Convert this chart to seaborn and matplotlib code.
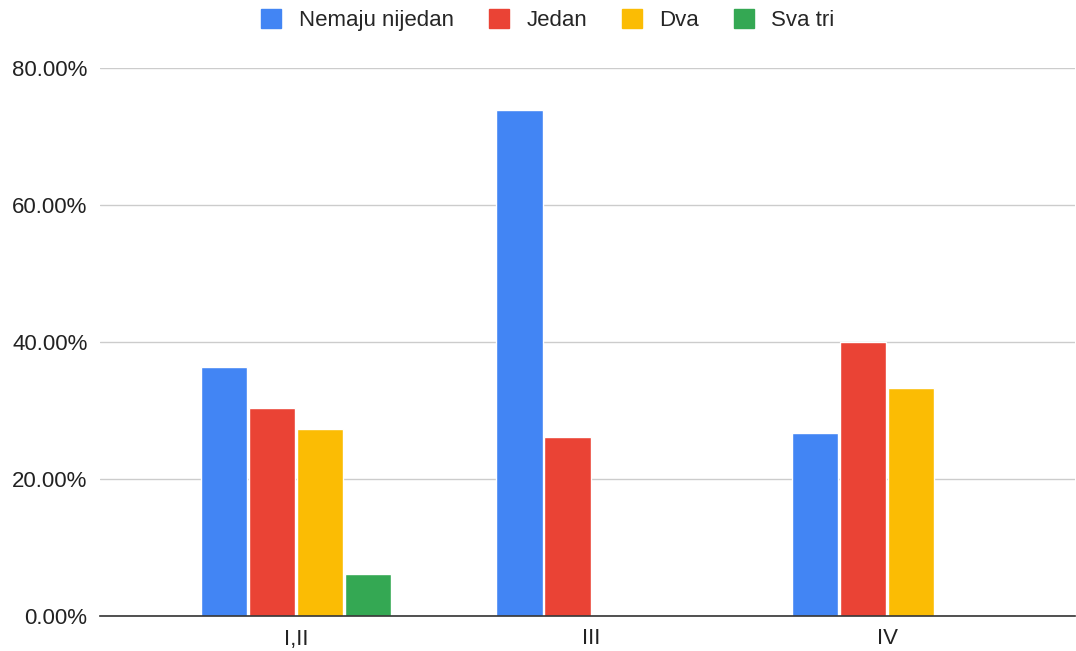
import numpy as np
import pandas as pd
import matplotlib
matplotlib.use("Agg")
import matplotlib.pyplot as plt
import seaborn as sns
from matplotlib.ticker import PercentFormatter, MultipleLocator

categories = ["I,II", "III", "IV"]
series = ["Nemaju nijedan", "Jedan", "Dva", "Sva tri"]
nemaju_nijedan = [36.36, 73.91, 26.67]
jedan = [30.30, 26.09, 40.00]
dva = [27.27, np.nan, 33.33]
sva_tri = [6.06, np.nan, np.nan]
colors = ["#4285F4", "#EA4335", "#FBBC04", "#34A853"]

df = pd.DataFrame({
    "grupa": categories * 4,
    "serija": [s for s in series for _ in categories],
    "vrijednost": nemaju_nijedan + jedan + dva + sva_tri,
})

sns.set_style("white")
plt.rcParams["font.family"] = ["Liberation Sans", "DejaVu Sans"]

fig = plt.figure(figsize=(10.76, 6.51), dpi=100)
ax = fig.add_axes([100 / 1076, 1 - 616 / 651, 975 / 1076, (616 - 68) / 651])

sns.barplot(data=df, x="grupa", y="vrijednost", hue="serija", order=categories,
            hue_order=series, palette=colors, width=0.65, gap=0.04,
            saturation=1, errorbar=None, ax=ax, legend=False)

ax.set_xlim(-0.663, 2.636)
ax.set_ylim(0, 80)
ax.yaxis.set_major_locator(MultipleLocator(20))
ax.yaxis.set_major_formatter(PercentFormatter(decimals=2))
ax.grid(axis="y", color="#cccccc", linewidth=1)
ax.set_axisbelow(True)
for s in ["top", "right", "left"]:
    ax.spines[s].set_visible(False)
ax.spines["bottom"].set_color("#333333")
ax.spines["bottom"].set_linewidth(1.2)
ax.tick_params(axis="both", length=0, labelsize=16, colors="#222222", pad=9)
ax.tick_params(axis="x", pad=9)
ax.set_xlabel("")
ax.set_ylabel("")

handles = [plt.Rectangle((0, 0), 1, 1, color=c) for c in colors]
fig.legend(handles, series, loc="center", bbox_to_anchor=(548 / 1076, 1 - 20 / 651),
           ncol=4, frameon=False, fontsize=16, handlelength=0.9, handleheight=0.9,
           columnspacing=1.55, handletextpad=0.8)

fig.savefig("out.png", dpi=100)
